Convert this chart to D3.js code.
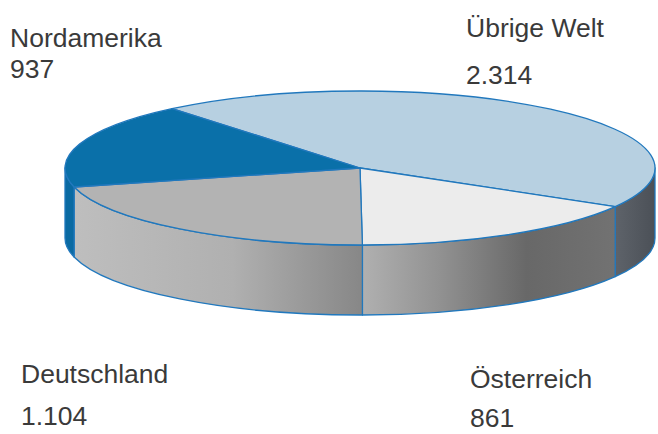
<!DOCTYPE html>
<html>
<head>
<meta charset="utf-8">
<script src="https://cdn.jsdelivr.net/npm/d3@7"></script>
<style>
  html, body { margin: 0; padding: 0; background: #fff; }
  svg { display: block; }
</style>
</head>
<body>
<svg id="chart" width="658" height="434"></svg>
<script>
// ---- data ----
const categories = ["Übrige Welt", "Österreich", "Deutschland", "Nordamerika"];
const values = [2314, 861, 1104, 937];

// ---- style / layout ----
const topColors = ["#b7d0e1", "#ececec", "#b3b3b3", "#0a70a9"];
const labelLayout = [
  { x: 466, y1: 37, y2: 84 },
  { x: 470, y1: 388, y2: 427 },
  { x: 21, y1: 383, y2: 425 },
  { x: 10, y1: 47, y2: 78 }
];
const W = 658, H = 434;
const cx = 360, cy = 168, rx = 295, ry = 77, depth = 70;
const stroke = "#2178bd";

const de = d3.formatLocale({ decimal: ",", thousands: ".", grouping: [3], currency: ["", " €"] });
const fmt = de.format(",d");

const svg = d3.select("#chart");
const defs = svg.append("defs");

const startA = -39.6 * Math.PI / 180;
const pie = d3.pie().sort(null).value(d => d).startAngle(startA).endAngle(startA + 2 * Math.PI);
const arcs = pie(values);

function pt(a, dy) {
  const t = a - Math.PI / 2;
  return [cx + rx * Math.cos(t), cy + ry * Math.sin(t) + (dy || 0)];
}

// gradients for side walls
const sideGrad = [
  { id: "g0", stops: [[0, "#5e636a"], [1, "#4b5057"]] },
  { id: "g1", stops: [[0, "#b0b0b0"], [0.3, "#929292"], [0.65, "#686868"], [1, "#727272"]] },
  { id: "g2", stops: [[0, "#bebebe"], [0.55, "#b0b0b0"], [1, "#878787"]] },
  { id: "g3", stops: [[0, "#0a6aa2"], [1, "#0a6aa2"]] }
];

// side walls (front half only)
const sides = [];
arcs.forEach((d, i) => {
  for (let k = -1; k <= 1; k++) {
    const lo = Math.PI / 2 + 2 * Math.PI * k, hi = 3 * Math.PI / 2 + 2 * Math.PI * k;
    const s = Math.max(d.startAngle, lo), e = Math.min(d.endAngle, hi);
    if (e > s + 1e-6) sides.push({ i, s, e });
  }
});

sides.forEach(sd => {
  const p0 = pt(sd.s), p1 = pt(sd.e);
  const xs = [p0[0], p1[0]];
  const g = sideGrad[sd.i];
  const lg = defs.append("linearGradient")
    .attr("id", g.id)
    .attr("gradientUnits", "userSpaceOnUse")
    .attr("x1", d3.min(xs)).attr("x2", d3.max(xs)).attr("y1", 0).attr("y2", 0);
  g.stops.forEach(st => lg.append("stop").attr("offset", st[0]).attr("stop-color", st[1]));
});

svg.append("g").selectAll("path").data(sides).join("path")
  .attr("d", sd => {
    const a = pt(sd.s), b = pt(sd.e), bb = pt(sd.e, depth), ab = pt(sd.s, depth);
    return `M${a}A${rx},${ry} 0 0 1 ${b}L${bb}A${rx},${ry} 0 0 0 ${ab}Z`;
  })
  .attr("fill", sd => `url(#${sideGrad[sd.i].id})`)
  .attr("stroke", stroke)
  .attr("stroke-width", 1.3)
  .attr("stroke-linejoin", "round");

// top faces
svg.append("g").selectAll("path").data(arcs).join("path")
  .attr("d", d => {
    const a = pt(d.startAngle), b = pt(d.endAngle);
    const large = (d.endAngle - d.startAngle) > Math.PI ? 1 : 0;
    return `M${cx},${cy}L${a}A${rx},${ry} 0 ${large} 1 ${b}Z`;
  })
  .attr("fill", (d, i) => topColors[i])
  .attr("stroke", stroke)
  .attr("stroke-width", 1.3)
  .attr("stroke-linejoin", "round");

// labels
const lab = svg.append("g")
  .attr("font-family", "'Liberation Sans', Arial, sans-serif")
  .attr("font-size", 26.5)
  .attr("fill", "#3a3a3a");
categories.forEach((c, i) => {
  const L = labelLayout[i];
  lab.append("text").attr("x", L.x).attr("y", L.y1).text(c);
  lab.append("text").attr("x", L.x).attr("y", L.y2).text(fmt(values[i]));
});
</script>
</body>
</html>
